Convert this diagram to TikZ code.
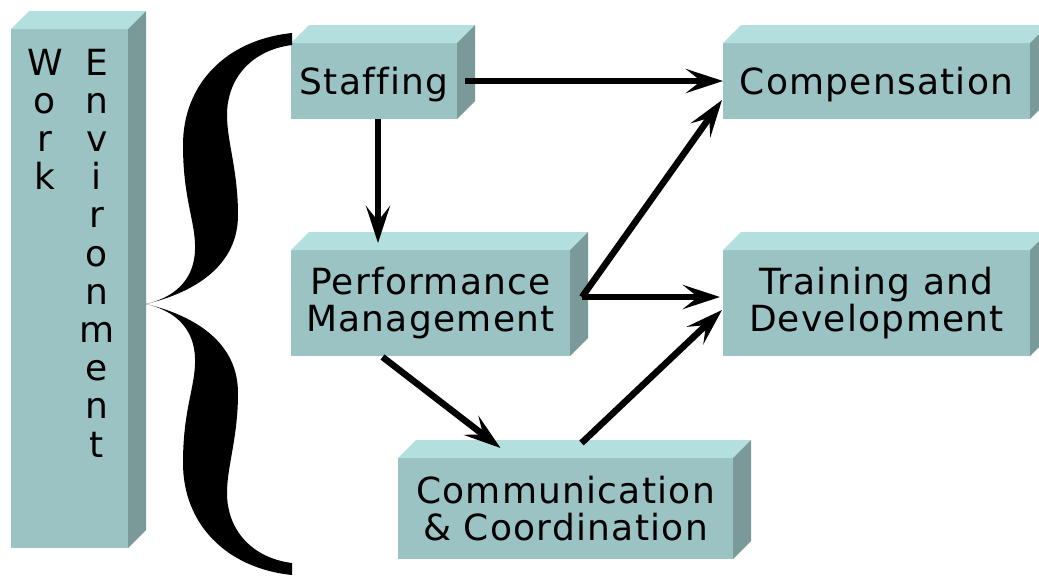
\documentclass[tikz,border=0pt]{standalone}
\usepackage{fontspec}
\setmainfont{DejaVu Sans}[LetterSpace=3.5,Ligatures=NoCommon]
\usepackage{xcolor}
\usepackage{tikz}
\usetikzlibrary{arrows.meta}
\definecolor{boxfront}{RGB}{155,195,196}
\definecolor{boxtop}{RGB}{179,223,223}
\definecolor{boxside}{RGB}{122,153,153}
\newcommand{\sidefaces}[1]{%
  \fill[boxtop] (#1.north west) -- ++(18,-18) -- ([shift={(18,-18)}]#1.north east) -- (#1.north east) -- cycle;
  \fill[boxside] (#1.north east) -- ++(18,-18) -- ([shift={(18,-18)}]#1.south east) -- (#1.south east) -- cycle;
}
\tikzset{
  block/.style={fill=boxfront, inner sep=0pt, outer sep=0pt, align=center, font=\fontsize{36}{37}\selectfont},
  oneline/.style={text height=26pt, text depth=0pt},
  letter/.style={anchor=base, inner sep=0pt, font=\fontsize{36}{37}\selectfont},
  flow/.style={-{Stealth[length=37pt,width=24pt,inset=15pt]}, line width=6.5pt},
}

\begin{document}
\begin{tikzpicture}[x=1pt, y=-1pt]
        \useasboundingbox (0,0) rectangle (1039,579);

        \node[block, minimum width=117, minimum height=519] (work) at (69.5, 288.5) {};
        \node[block, oneline, minimum width=166, minimum height=76] (staff) at (374, 81) {Staffing};
        \node[block, oneline, minimum width=307, minimum height=76] (comp) at (876.5, 81) {Compensation};
        \node[block, minimum width=279, minimum height=106] (perf) at (430.5, 303) {Performance\\Management};
        \node[block, minimum width=307, minimum height=106] (train) at (876.5, 303) {Training and\\Development};
        \node[block, minimum width=335, minimum height=101] (comm) at (565.5, 508.5) {Communication\\\& Coordination};

        \sidefaces{work}
        \sidefaces{staff}
        \sidefaces{comp}
        \sidefaces{perf}
        \sidefaces{train}
        \sidefaces{comm}

        % letters of the tall box
        \foreach \ch [count=\i from 0] in {W,o,r,k}
            \node[letter] (w\i) at (45, {75+38.2*\i}) {\ch};
        \foreach \ch [count=\i from 0] in {E,n,v,i,r,o,n,m,e,n,t}
            \node[letter] (e\i) at (97, {75+38.2*\i}) {\ch};

        % brace
        \fill (292,33) .. controls (225,40) and (183,85) .. (183,145)
            .. controls (183,200) and (196,222) .. (195,250)
            .. controls (194,282) and (172,298) .. (146,304)
            .. controls (196,292) and (238,265) .. (238,215)
            .. controls (238,170) and (227,142) .. (227,115)
            .. controls (227,78) and (252,50) .. (292,45) -- cycle;
        \fill (292,575) .. controls (225,568) and (183,523) .. (183,463)
            .. controls (183,408) and (196,386) .. (195,358)
            .. controls (194,326) and (172,310) .. (146,304)
            .. controls (196,316) and (238,343) .. (238,393)
            .. controls (238,438) and (227,466) .. (227,493)
            .. controls (227,530) and (252,558) .. (292,563) -- cycle;

        \coordinate (pmout) at ([shift={(12,-6)}]perf.east);

        \draw[flow] ([xshift=8pt]staff.east) -- (comp.west);
        \draw[flow] ([xshift=4pt]staff.south) -- ([xshift=-52.5pt,yshift=7pt]perf.north);
        \draw[flow] (pmout) -- ([shift={(-1,19)}]comp.west);
        \draw[flow] (pmout) -- ([shift={(-3,-6)}]train.west);
        \draw[flow] ([shift={(-48,1)}]perf.south) -- ([shift={(-65,-10)}]comm.north);
        \draw[flow] ([shift={(16,-15)}]comm.north) -- ([shift={(-1,7)}]train.west);
    \end{tikzpicture}
\end{document}
